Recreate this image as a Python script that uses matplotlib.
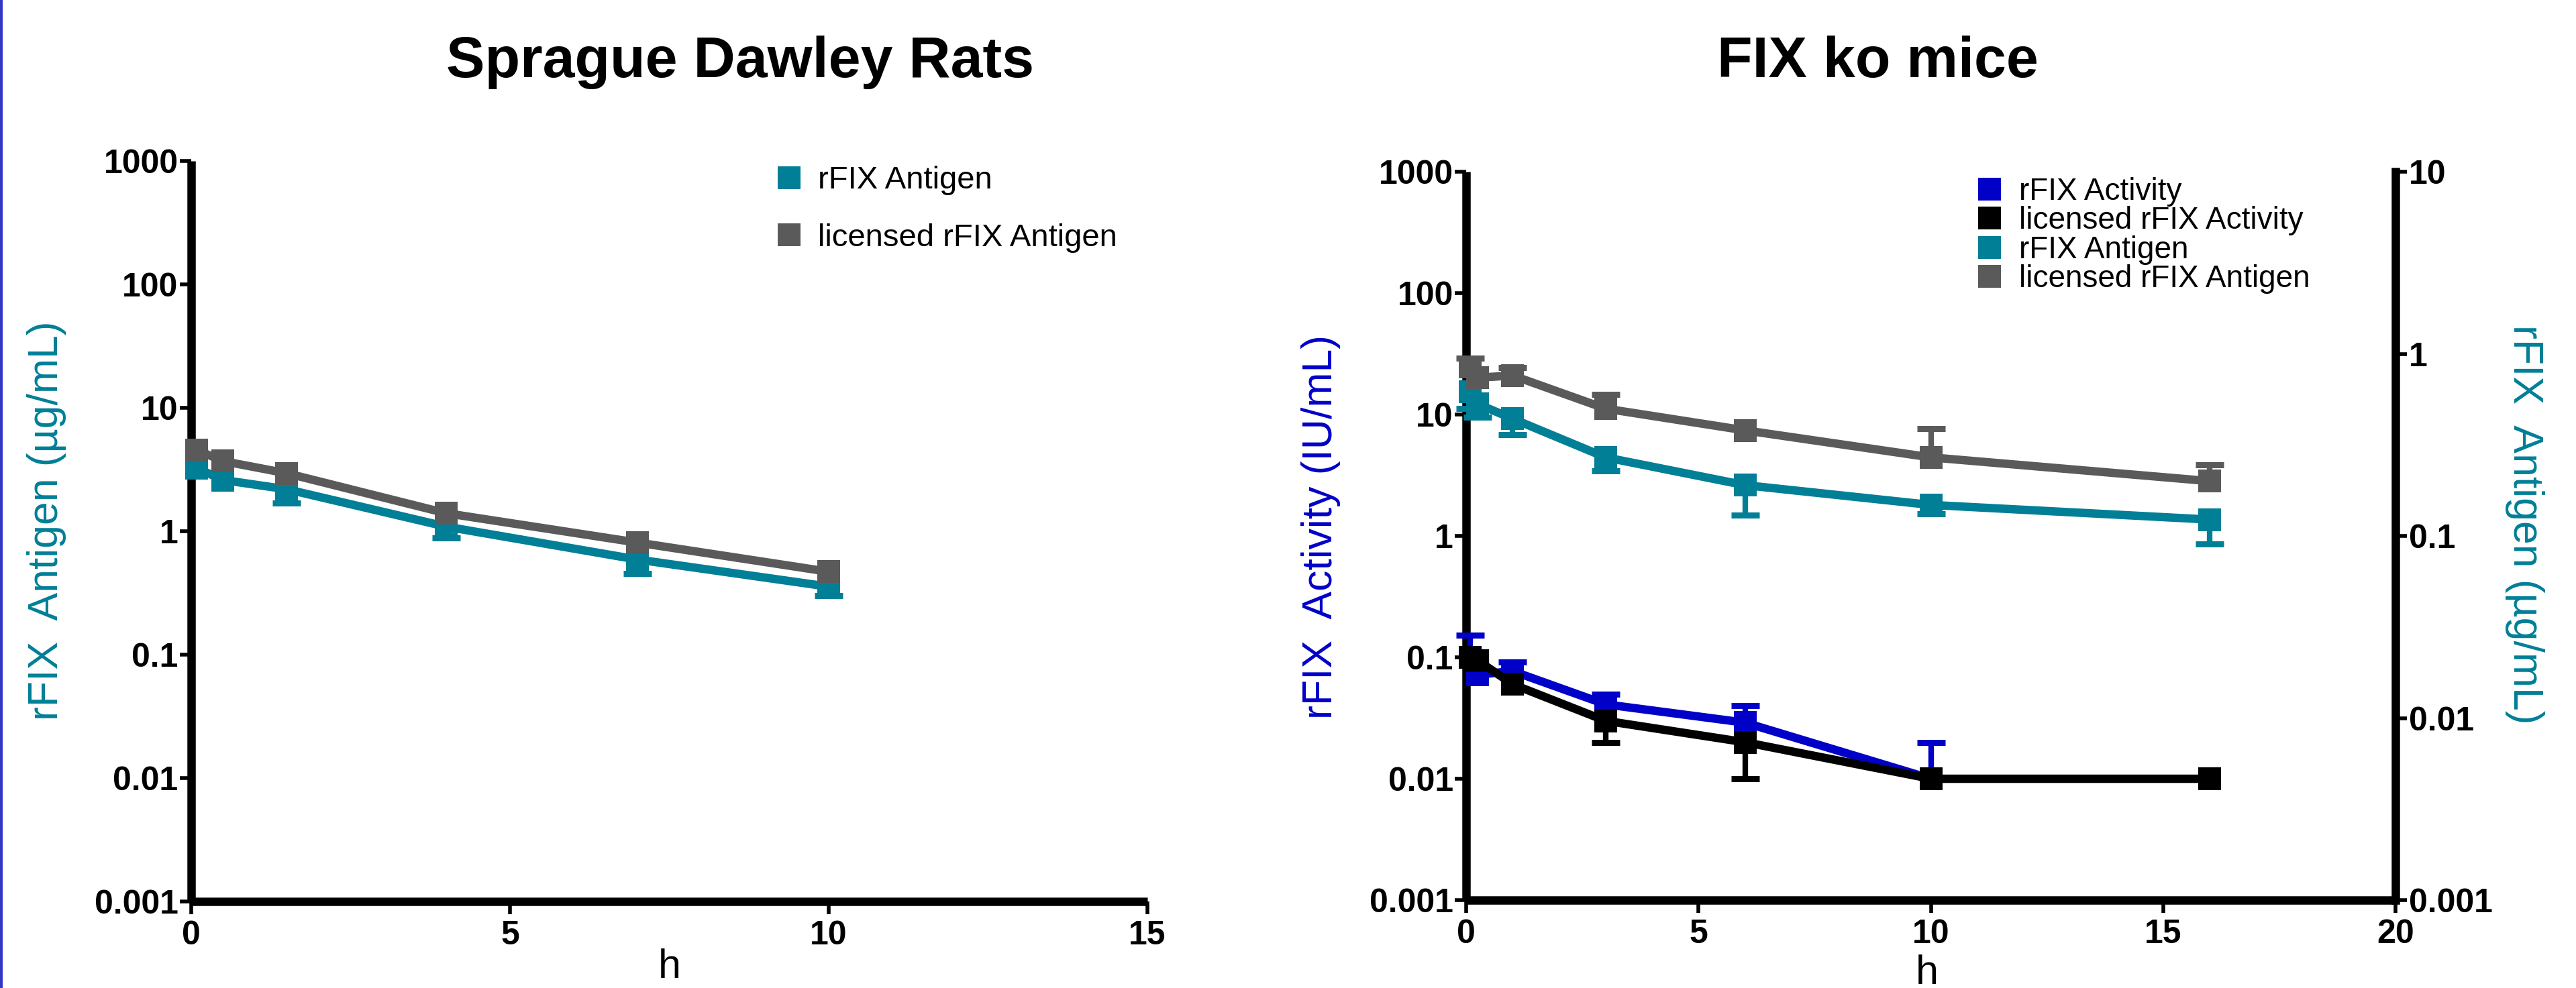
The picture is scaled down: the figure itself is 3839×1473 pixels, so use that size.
import numpy as np
import matplotlib
matplotlib.use("Agg")
import matplotlib.pyplot as plt
from matplotlib.lines import Line2D
from matplotlib.patches import Rectangle
from matplotlib.ticker import NullLocator

plt.rcParams['font.family'] = ['Liberation Sans', 'DejaVu Sans']

TEAL = '#007F96'
GREY = '#5A5A5A'
BLUE = '#0000C8'
BLACK = '#000000'
nan = np.nan

# --- Sprague Dawley rats (antigen, ug/mL) ---
rat_h = [0.083, 0.5, 1.5, 4, 7, 10]
rat_antigen = [3.26, 2.6, 2.19, 1.09, 0.59, 0.356]
rat_antigen_low = [nan, nan, 1.69, 0.88, 0.456, 0.30]
rat_lic_antigen = [4.57, 3.7, 2.95, 1.40, 0.81, 0.47]

# --- FIX ko mice ---
mice_h = [0.083, 0.25, 1, 3, 6, 10, 16]
# activity, IU/mL (left axis)
mice_activity = [0.10, 0.072, 0.077, 0.041, 0.029, 0.010, nan]
mice_activity_up = [0.153, nan, 0.092, 0.050, 0.040, 0.020, nan]
mice_lic_activity = [0.10, 0.094, 0.060, 0.030, 0.020, 0.010, 0.010]
mice_lic_activity_low = [nan, nan, nan, 0.020, 0.010, nan, nan]
# antigen, ug/mL (right axis)
mice_antigen = [0.62, 0.53, 0.44, 0.27, 0.19, 0.148, 0.123]
mice_antigen_low = [0.50, 0.45, 0.36, 0.227, 0.13, 0.132, 0.090]
mice_lic_antigen = [0.85, 0.74, 0.76, 0.50, 0.38, 0.27, 0.20]
mice_lic_antigen_up = [0.95, nan, 0.84, 0.60, nan, 0.39, 0.245]

log_ticks = [0.001, 0.01, 0.1, 1, 10, 100, 1000]
log_labels = ['0.001', '0.01', '0.1', '1', '10', '100', '1000']
right_ticks = [0.001, 0.01, 0.1, 1, 10]
right_labels = ['0.001', '0.01', '0.1', '1', '10']

LW = 9      # data line width
MS = 24     # square marker size
EW = 6      # error stem width
CAP_MS = 30
CAP_MEW = 6.5
SPINE = 9
TICK_FS = 36


def series(ax, x, y, color, bound=None, z=3):
    x = np.asarray(x, float)
    y = np.asarray(y, float)
    ok = ~np.isnan(y)
    if bound is not None:
        b = np.asarray(bound, float)
        m = ok & ~np.isnan(b)
        ax.vlines(x[m], y[m], b[m], color=color, lw=EW, zorder=z - 0.2, clip_on=False)
        ax.plot(x[m], b[m], ls='none', marker='_', ms=CAP_MS, mew=CAP_MEW,
                color=color, zorder=z - 0.2, clip_on=False)
    ax.plot(x[ok], y[ok], color=color, lw=LW, marker='s', ms=MS, mew=0,
            clip_on=False, zorder=z)


def style_ticks(ax):
    for lab in ax.get_xticklabels() + ax.get_yticklabels():
        lab.set_fontweight('bold')


def style_axis(ax, xmax, xticks):
    ax.set_yscale('log')
    ax.set_ylim(0.001, 1000)
    ax.set_xlim(0, xmax)
    ax.set_yticks(log_ticks)
    ax.set_yticklabels(log_labels)
    ax.yaxis.set_minor_locator(NullLocator())
    ax.set_xticks(xticks)
    ax.set_xticklabels([str(t) for t in xticks])
    for s in ('top', 'right'):
        ax.spines[s].set_visible(False)
    for s in ('left', 'bottom'):
        ax.spines[s].set_linewidth(SPINE)
        ax.spines[s].set_capstyle('butt')
    ax.tick_params(axis='y', direction='out', length=12, width=4, pad=2, labelsize=TICK_FS)
    ax.tick_params(axis='x', direction='out', length=14, width=4, pad=6, labelsize=TICK_FS)
    style_ticks(ax)


fig = plt.figure(figsize=(38.39, 14.73), dpi=100)

# ---------------- left panel ----------------
ax1 = fig.add_axes([0.0742, 0.0876, 0.3712, 0.7494])
style_axis(ax1, 15, [0, 5, 10, 15])
series(ax1, rat_h, rat_antigen, TEAL, rat_antigen_low, z=3)
series(ax1, rat_h, rat_lic_antigen, GREY, None, z=4)

h1 = [Line2D([], [], ls='none', marker='s', ms=MS, mew=0, color=c) for c in (TEAL, GREY)]
ax1.legend(h1, ['rFIX Antigen', 'licensed rFIX Antigen'], loc='upper left',
           bbox_to_anchor=(0.3006, 0.832), bbox_transform=fig.transFigure,
           frameon=False, fontsize=34, handlelength=0.95, handletextpad=0.42,
           labelspacing=0.88, borderpad=0, borderaxespad=0)

# ---------------- right panel ----------------
ax2 = fig.add_axes([0.5692, 0.0889, 0.3608, 0.7373])
style_axis(ax2, 20, [0, 5, 10, 15, 20])
series(ax2, mice_h, mice_activity, BLUE, mice_activity_up, z=3)
series(ax2, mice_h, mice_lic_activity, BLACK, mice_lic_activity_low, z=4)

ax2b = ax2.twinx()
ax2b.set_yscale('log')
ax2b.set_ylim(0.001, 10)
ax2b.set_yticks(right_ticks)
ax2b.set_yticklabels(right_labels)
ax2b.yaxis.set_minor_locator(NullLocator())
for s in ('top', 'left', 'bottom'):
    ax2b.spines[s].set_visible(False)
ax2b.spines['right'].set_linewidth(SPINE)
ax2b.tick_params(axis='y', direction='out', length=12, width=4, pad=2, labelsize=TICK_FS)
style_ticks(ax2b)
series(ax2b, mice_h, mice_antigen, TEAL, mice_antigen_low, z=3)
series(ax2b, mice_h, mice_lic_antigen, GREY, mice_lic_antigen_up, z=4)

h2 = [Line2D([], [], ls='none', marker='s', ms=MS, mew=0, color=c)
      for c in (BLUE, BLACK, TEAL, GREY)]
ax2b.legend(h2, ['rFIX Activity', 'licensed rFIX Activity', 'rFIX Antigen',
                 'licensed rFIX Antigen'], loc='upper left',
            bbox_to_anchor=(0.7666, 0.821), bbox_transform=fig.transFigure,
            frameon=False, fontsize=33, handlelength=0.95, handletextpad=0.5,
            labelspacing=-0.01, borderpad=0, borderaxespad=0)

# ---------------- titles and labels ----------------
fig.text(0.2873, 0.922, 'Sprague Dawley Rats', ha='center', va='baseline',
         fontsize=62, fontweight='bold')
fig.text(0.729, 0.922, 'FIX ko mice', ha='center', va='baseline',
         fontsize=62, fontweight='bold')
fig.text(0.018, 0.473, 'rFIX  Antigen (µg/mL)', rotation=90, ha='center',
         va='center', color=TEAL, fontsize=45)
fig.text(0.5127, 0.467, 'rFIX  Activity (IU/mL)', rotation=90, ha='center',
         va='center', color=BLUE, fontsize=45)
fig.text(0.980, 0.469, 'rFIX  Antigen (µg/mL)', rotation=270, ha='center',
         va='center', color=TEAL, fontsize=45)
fig.text(0.260, 0.0102, 'h', ha='center', va='baseline', fontsize=44)
fig.text(0.748, 0.004, 'h', ha='center', va='baseline', fontsize=44)

# thin blue frame edge on the left
fig.add_artist(Rectangle((0, 0), 4 / 3839, 1, transform=fig.transFigure,
                         color='#3535C8', lw=0))

fig.savefig('out.png', dpi=100)
